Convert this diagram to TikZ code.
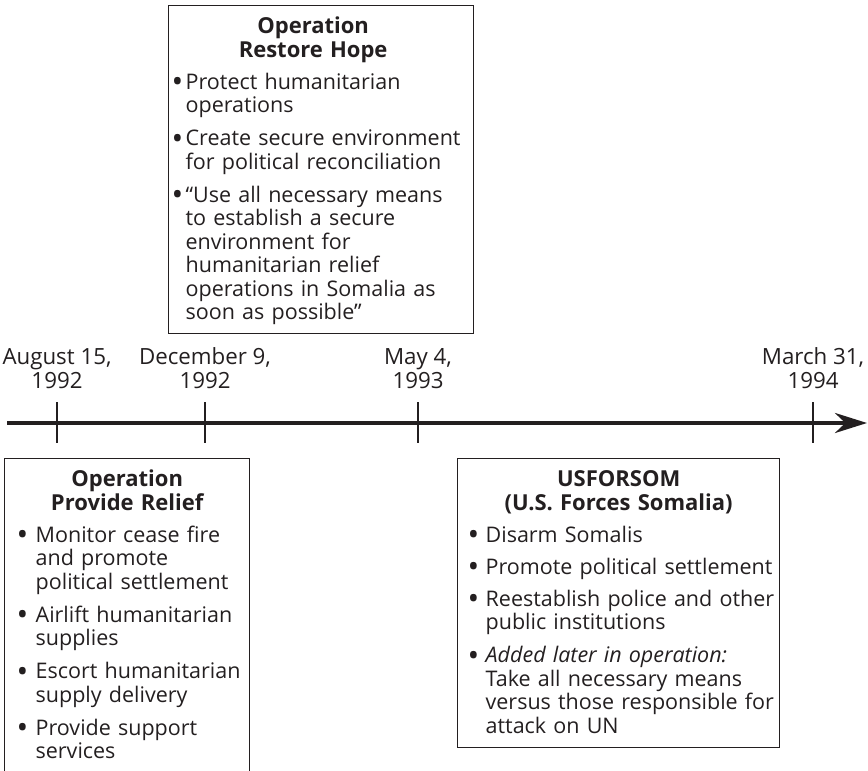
\documentclass[tikz,border=0pt]{standalone}
\usepackage{fontspec}
\setmainfont{Open Sans}
\usetikzlibrary{positioning,arrows.meta}
\definecolor{ink}{RGB}{35,31,32}
\newlength\bulletw
\newcommand\opitem[1]{\par\vspace{8.5pt}\noindent\makebox[\bulletw][l]{\hspace*{-2pt}\raisebox{-0.16em}{\scalebox{1.45}{\textbullet}}}\begin{tabular}[t]{@{}l@{}}#1\end{tabular}\par}
\newcommand\optitle[2][0pt]{{\centering\rightskip=#1 plus 1fil\fontsize{22}{23.5}\selectfont\bfseries\rule{0pt}{28pt}#2\par}}
\newcommand\botgap{\rule[-14pt]{0pt}{14pt}}
\tikzset{
	opbox/.style={draw=ink, line width=1.3pt, anchor=north west, inner ysep=0pt, align=left, text=ink, font=\fontsize{21.5}{23.5}\selectfont},
	datelbl/.style={align=center, inner sep=0pt, text=ink, font=\fontsize{22.3}{24}\selectfont},
	tick/.style={draw=ink, line width=1.3pt},
	timeline/.style={draw=ink, line width=4pt, -{Stealth[length=32pt,width=20pt]}}
}
\begin{document}
\begin{tikzpicture}[x=1pt,y=-1pt]
	\useasboundingbox (0,0) rectangle (868,771);
	
	% time axis
	\coordinate (start) at (7,423);
	\coordinate (end) at (867,423);
	\coordinate (aug) at (57,423);
	\coordinate (dec) at (205,423);
	\coordinate (may) at (418,423);
	\coordinate (mar) at (813,423);
	\draw[timeline] (start) -- (end);
	\foreach \t in {aug,dec,may,mar}
		\draw[tick] (\t) ++(0,-21) -- ++(0,41);
	
	\node[datelbl, above=34pt of aug] (aug label) {August 15,\\1992};
	\node[datelbl, above=34pt of dec] (dec label) {December 9,\\1992};
	\node[datelbl, above=34pt of may] (may label) {May 4,\\1993};
	\node[datelbl, above=34pt of mar] (mar label) {March 31,\\1994};
	
	% operations
	\node[opbox, inner xsep=5pt, text width=295pt, execute at begin node={\setlength\bulletw{12pt}}] (hope) at (168,5) {%
		\optitle[16pt]{Operation\\Restore Hope}
		\opitem{Protect humanitarian\\operations}
		\opitem{Create secure environment\\for political reconciliation}
		\opitem{“Use all necessary means\\to establish a secure\\environment for\\humanitarian relief\\operations in Somalia as\\soon as possible”\botgap}};
	
	\node[opbox, inner xsep=14pt, text width=217pt, execute at begin node={\setlength\bulletw{17pt}}] (relief) at (4,458) {%
		\optitle{Operation\\Provide Relief}
		\opitem{Monitor cease fire\\and promote\\political settlement}
		\opitem{Airlift humanitarian\\supplies}
		\opitem{Escort humanitarian\\supply delivery}
		\opitem{Provide support\\services\botgap}};
	
	\node[opbox, inner xsep=12pt, text width=298pt, execute at begin node={\setlength\bulletw{16pt}}] (usforsom) at (457,458) {%
		\optitle{USFORSOM\\(U.S. Forces Somalia)}
		\opitem{Disarm Somalis}
		\opitem{Promote political settlement}
		\opitem{Reestablish police and other\\public institutions}
		\opitem{\textit{Added later in operation:}\\Take all necessary means\\versus those responsible for\\attack on UN\botgap}};
\end{tikzpicture}
\end{document}
